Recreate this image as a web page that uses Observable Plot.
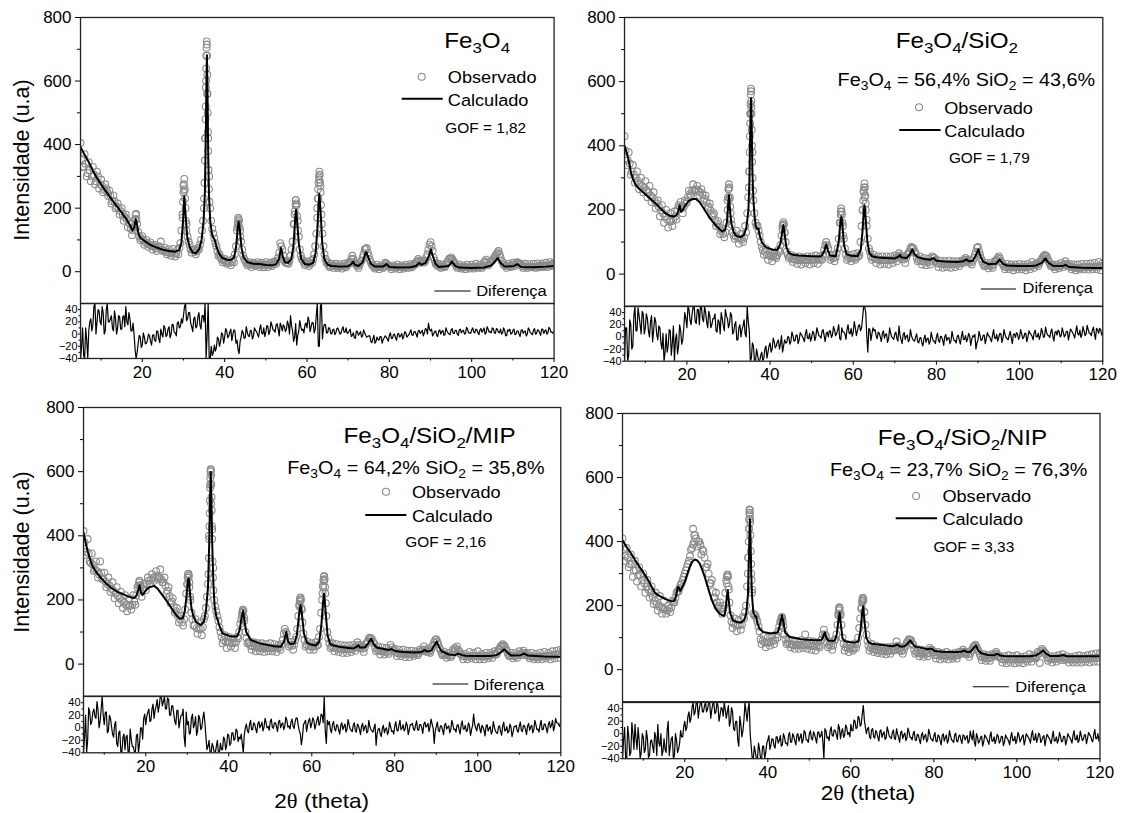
<!DOCTYPE html>
<html><head><meta charset="utf-8">
<script src="https://cdn.jsdelivr.net/npm/d3@7"></script>
<script src="https://cdn.jsdelivr.net/npm/@observablehq/plot@0.6"></script>
<style>
html,body{margin:0;padding:0;background:#fff;}
#root{position:relative;width:1123px;height:813px;overflow:hidden;font-family:"Liberation Sans",Arial,sans-serif;}
#root svg{position:absolute;overflow:visible;max-width:none;}
</style></head><body><div id="root"></div>
<script>
// ---------- sampling: "A" values at 5, 5.5, 6 ...; "B" values at 5.25, 5.75, ... ----------
const X_START = 5, X_STEP = 0.5;
const X_DOMAIN = [5, 120];
const xTicks = [20, 40, 60, 80, 100, 120];
const xMinor = [10, 30, 50, 70, 90, 110];
const yTicks = [0, 200, 400, 600, 800];
const yMinor = [100, 300, 500, 700];
const dTicks = [-40, -20, 0, 20, 40];
const dMinor = [-30, -10, 10, 30];

// ---------- texts ----------
const titles = ["Fe_3O_4", "Fe_3O_4/SiO_2", "Fe_3O_4/SiO_2/MIP", "Fe_3O_4/SiO_2/NIP"];
const compositions = [null, "Fe_3O_4 = 56,4% SiO_2 = 43,6%", "Fe_3O_4 = 64,2% SiO_2 = 35,8%", "Fe_3O_4 = 23,7% SiO_2 = 76,3%"];
const gofs = ["GOF = 1,82", "GOF = 1,79", "GOF = 2,16", "GOF = 3,33"];
const legendLabels = ["Observado", "Calculado", "Diferença"];
const yTitle = "Intensidade (u.a)";

// ---------- Panel 1 : Fe3O4 ----------
const obs1 = [
405,330,370,300,345,285,330,275,315,262,
290,250,275,250,255,215,240,200,215,180,
200,160,180,140,150,115,140,182,125,100,
112,85,100,78,92,70,85,65,80,95,
65,75,55,70,50,72,48,68,75,130,
270,200,110,85,60,70,55,75,85,130,
200,600,420,200,135,105,80,50,45,30,
40,25,35,20,40,55,130,160,95,50,
35,20,30,15,28,18,30,15,28,14,
30,15,28,18,32,25,45,90,70,35,
30,25,50,95,190,210,110,50,35,20,
32,18,35,40,80,170,290,180,80,40,
30,15,25,12,25,12,24,10,25,14,
28,30,50,30,22,12,30,45,70,75,
50,30,20,10,22,8,20,12,28,22,
18,8,20,10,22,8,20,10,22,12,
24,14,25,30,40,30,35,30,45,70,
93,65,35,22,25,12,22,15,30,40,
45,35,25,12,22,10,20,8,22,10,
22,10,25,12,22,12,30,38,20,30,
35,45,55,65,45,30,22,12,25,15,
28,18,30,22,25,12,25,12,24,14,
25,12,26,14,25,15,28,15,30,18,
28];
const obs1B = [
355,330,340,310,320,300,305,285,300,275,
270,258,262,238,240,222,222,205,200,190,
180,172,165,155,135,130,165,150,112,105,
100,92,90,85,82,80,75,72,78,70,
68,62,62,58,60,58,58,55,90,180,
255,150,95,70,68,62,65,70,100,160,
420,560,300,160,120,90,65,55,40,35,
32,30,28,30,30,80,150,130,70,40,
28,25,22,24,22,24,22,22,22,22,
22,22,22,24,28,35,60,80,50,28,
28,35,70,150,225,160,70,40,28,25,
25,25,28,55,120,230,270,120,55,28,
20,18,18,18,16,16,17,16,18,20,
25,40,40,25,18,22,35,55,72,60,
38,22,15,15,15,15,15,18,26,18,
14,14,15,14,15,14,15,14,16,16,
18,20,22,32,35,28,30,35,55,85,
80,45,25,18,16,16,16,22,32,42,
40,28,18,16,14,14,14,14,14,14,
14,16,16,16,16,18,32,28,24,32,
40,50,60,55,35,22,18,18,18,20,
22,25,28,24,18,16,16,16,16,16,
16,16,18,18,18,18,20,20,22,22];
const peaks1 = [[18.3,165],[18.4,180],[18.6,165],
[29.8,170],[29.9,220],[30.0,250],[30.1,275],[30.2,292],[30.3,260],[30.4,230],[30.6,160],[30.7,130],
[35.0,230],[35.1,280],[35.2,350],[35.3,420],[35.35,480],[35.4,520],[35.45,580],[35.5,640],[35.55,680],[35.6,705],[35.65,725],[35.7,715],[35.75,680],[35.8,620],[35.85,560],[35.9,500],[35.95,440],[36.0,380],[36.1,320],[36.2,260],[36.3,220],
[43.1,140],[43.2,155],[43.3,170],[43.4,165],[43.6,140],[43.8,110],
[56.9,150],[57.0,180],[57.2,210],[57.3,225],[57.4,215],[57.6,175],[57.8,130],
[62.5,200],[62.6,230],[62.7,260],[62.8,280],[62.9,300],[63.0,315],[63.1,305],[63.2,280],[63.3,250],[63.4,210],[63.6,150]];
const calc1 = [[5,392],[6,368],[7,345],[8,318],[9,295],[10,275],[11,256],[12,238],[13,220],[14,203],[15,186],[16,168],[17,147],[17.6,130],[18.1,140],[18.4,166],[18.7,150],[19.1,118],[19.6,106],[20.5,97],[22,84],[23.5,76],[25,69],[26.5,65],[28,63],[28.9,68],[29.5,90],[29.9,160],[30.2,237],[30.5,180],[30.9,110],[31.5,78],[32.3,60],[33,58],[33.8,70],[34.4,100],[34.9,160],[35.2,250],[35.45,450],[35.6,620],[35.7,681],[35.85,560],[36.0,380],[36.2,240],[36.5,160],[36.9,120],[37.2,108],[37.6,100],[38.1,75],[38.7,55],[39.5,43],[40.5,38],[41.5,37],[42.3,45],[42.8,80],[43.2,140],[43.4,158],[43.7,130],[44.1,75],[44.6,45],[45.5,30],[47,25],[48.5,24],[50,21],[51.5,20],[52.5,24],[53.2,40],[53.7,75],[54.1,50],[54.6,30],[55.4,28],[56.2,40],[56.7,80],[57.1,160],[57.35,195],[57.6,160],[58,90],[58.6,40],[59.5,24],[60.5,22],[61.5,28],[62.1,60],[62.5,130],[62.8,210],[63.0,245],[63.3,190],[63.7,90],[64.2,40],[65,22],[66,18],[68,16],[70,17],[70.8,25],[71.2,32],[71.6,22],[72.5,18],[73.5,30],[74.1,55],[74.4,62],[74.8,48],[75.5,25],[76.5,16],[78.5,16],[79.3,24],[80,15],[82,13],[85,14],[86.5,18],[87.2,28],[87.8,22],[88.8,28],[89.6,50],[90.1,70],[90.5,52],[91.2,25],[92,15],[94.4,18],[95.2,32],[96,18],[97,13],[100,12],[103,13],[104.8,20],[105.6,32],[106.3,43],[107,28],[108,16],[110.3,18],[111.1,24],[112,15],[115,14],[118,16],[120,18]];
const diff1 = [
-40,10,-40,-10,5,25,15,50,20,38,
15,35,5,50,20,30,5,25,10,28,
8,30,45,15,25,5,0,-40,-15,-5,
-18,-5,-15,0,-12,-2,-10,5,-8,8,
-5,10,-2,12,0,15,2,18,10,25,
30,50,25,35,12,25,10,28,15,30,
20,-40,50,-40,-35,-18,-22,-8,-12,0,
-5,5,-3,8,0,5,-10,-32,-5,2,
-6,3,-4,5,-3,6,-1,8,2,10,
3,12,5,14,6,15,8,18,5,12,
8,15,30,5,-5,-18,5,12,8,15,
10,22,12,18,8,50,-20,50,10,15,
2,10,0,8,2,10,0,8,3,10,
2,8,-2,-6,5,-2,4,-3,2,-5,
-3,-12,-8,-15,-5,-10,-4,-9,-3,-8,
-2,-7,-1,-6,0,-5,1,-4,2,-3,
3,-2,4,0,5,1,6,2,8,18,
5,-3,4,-2,5,0,6,-1,5,0,
7,1,6,0,7,2,6,1,8,2,
7,3,8,2,7,3,10,2,8,4,
10,2,9,3,8,2,6,-2,5,0,
6,-1,5,0,6,1,5,0,7,1,
6,0,7,2,8,1,7,2,9,3,
6];
const diff1B = [
-20,-35,10,-40,20,5,45,0,40,20,
45,0,40,20,25,10,38,0,30,8,
28,12,20,35,5,18,-25,-30,-2,-22,
2,-16,-10,-3,-18,-1,-12,5,-14,0,
14,-4,8,-6,16,3,-3,20,12,18,
45,22,35,18,4,28,12,35,8,30,
50,0,-40,-20,-30,-28,-5,-20,2,-15,
9,-6,3,-11,7,-15,-25,-12,6,-7,
12,-3,6,-8,10,4,-5,15,0,-4,
14,-1,20,7,3,17,-3,13,15,4,
21,0,13,-12,17,-2,22,6,2,18,
28,4,19,2,30,-20,45,-8,16,2,
10,1,7,-1,9,5,1,12,3,1,
5,-4,2,-7,4,1,-5,7,-2,-4,
-3,-14,-2,-12,-9,-4,-15,-6,-5,-12,
2,-7,0,-10,1,-3,-8,4,-5,-1,
7,-2,4,-5,6,3,-3,9,0,8,
8,0,5,-4,7,4,-2,10,2,-1,
9,1,6,-2,8,5,0,11,2,1,
10,2,7,-1,9,6,0,12,3,2,
9,1,8,2,0,10,-3,7,8,1,
8,0,5,-4,7,4,-3,10,2,-1,
9,1,6,-2,8,5,0,11,3,1];

// ---------- Panel 2 : Fe3O4/SiO2 ----------
const obs2 = [
430,340,380,310,340,285,320,265,300,255,
290,240,275,225,255,205,230,180,215,160,
200,145,190,150,195,170,215,225,190,230,
225,260,245,280,260,275,245,265,230,245,
205,220,180,190,150,165,125,140,115,160,
265,190,130,110,135,95,125,100,150,190,
320,520,230,160,150,120,85,60,80,45,
70,40,65,50,75,90,150,130,70,50,
60,38,55,32,55,30,52,35,55,30,
55,35,58,32,55,45,75,100,80,45,
60,40,65,110,195,150,80,45,60,40,
62,45,65,60,150,260,200,110,70,45,
60,35,55,30,55,32,55,30,55,35,
58,40,65,50,55,35,60,70,85,80,
65,40,55,30,50,28,48,30,55,50,
45,22,42,20,40,22,42,20,40,22,
40,25,42,35,50,40,45,30,50,70,
85,60,40,25,35,18,35,20,40,45,
55,40,30,15,32,15,30,12,30,15,
32,15,30,12,32,15,38,20,35,25,
40,50,60,55,40,25,30,15,30,18,
35,22,40,25,32,15,30,12,30,14,
32,15,32,14,33,15,35,15,38,12,
35];
const obs2B = [
385,355,345,320,310,300,290,280,275,270,
262,255,245,240,230,220,210,198,190,180,
170,165,165,170,180,200,210,205,210,220,
240,250,260,262,265,258,255,248,235,225,
210,198,185,170,158,148,135,125,130,230,
235,155,120,118,112,110,108,115,130,240,
500,380,190,150,135,100,75,70,60,60,
55,55,55,60,70,120,155,100,60,55,
48,46,45,44,44,44,44,44,44,44,
45,45,46,45,48,60,90,90,60,52,
50,52,80,160,185,110,60,52,50,50,
52,52,55,100,200,240,150,80,55,52,
48,46,44,44,44,44,44,44,45,46,
50,55,58,46,46,52,65,80,82,70,
52,45,42,40,40,38,38,42,52,40,
34,32,32,32,31,32,31,32,31,32,
32,34,38,45,44,36,36,42,60,82,
70,48,32,28,27,26,26,30,42,50,
48,35,24,22,22,22,22,22,22,22,
22,22,22,22,24,26,28,28,30,35,
45,55,58,48,32,24,22,22,24,25,
28,30,32,26,22,22,20,20,20,20,
22,22,22,22,22,23,24,24,24,25];
const peaks2 = [[29.8,200],[29.9,240],[30.0,265],[30.1,280],[30.2,270],[30.3,240],[30.4,210],[30.6,170],
[34.9,270],[35.0,320],[35.1,380],[35.15,430],[35.2,470],[35.25,500],[35.3,530],[35.35,560],[35.4,578],[35.45,570],[35.5,540],[35.55,500],[35.6,450],[35.65,400],[35.7,350],[35.8,300],[35.9,260],
[43.0,140],[43.1,155],[43.2,162],[43.3,155],[43.5,130],
[56.9,160],[57.0,185],[57.1,205],[57.2,195],[57.4,160],[57.6,120],
[62.3,200],[62.4,230],[62.5,255],[62.6,270],[62.7,283],[62.8,270],[62.9,245],[63.0,220],[63.2,170]];
const calc2 = [[5,400],[5.5,380],[6,355],[6.5,320],[7,298],[7.6,280],[8.5,266],[10,249],[11.2,235],[12.5,220],[13.7,204],[14.9,189],[16,182],[16.9,179],[17.6,185],[18.0,200],[18.25,215],[18.6,194],[19.0,200],[19.5,212],[20.5,229],[21.5,234],[22.2,234],[23,225],[23.8,210],[24.5,195],[25.3,179],[26.1,165],[26.9,153],[27.7,142],[28.5,133],[29.2,138],[29.6,160],[29.9,210],[30.1,246],[30.35,200],[30.7,158],[31.2,132],[31.8,120],[32.9,115],[33.7,122],[34.3,145],[34.8,200],[35.05,300],[35.2,420],[35.35,530],[35.45,548],[35.6,450],[35.75,320],[36.0,230],[36.3,175],[36.6,148],[37.0,140],[37.2,142],[37.5,120],[38.0,100],[38.9,85],[40.5,76],[41.8,76],[42.5,95],[42.9,130],[43.2,153],[43.5,125],[43.9,85],[44.5,66],[45.5,60],[47,58],[50,56],[52.2,55],[53,70],[53.5,93],[53.9,75],[54.4,58],[55.8,56],[56.5,100],[56.9,160],[57.15,180],[57.4,150],[57.8,90],[58.4,62],[59.5,57],[61,56],[61.8,75],[62.2,130],[62.5,190],[62.7,215],[63,170],[63.4,100],[63.9,65],[64.6,55],[66,52],[68,50],[70,49],[70.8,54],[71.2,60],[71.6,52],[72.8,50],[73.6,62],[74.2,77],[74.7,62],[75.5,53],[77,47],[78.5,45],[79.3,50],[80,42],[82,39],[85,38],[86.5,40],[87.2,46],[87.8,40],[88.8,42],[89.6,62],[90.1,77],[90.6,55],[91.3,38],[92.5,31],[94.3,32],[95.2,45],[96,32],[97,27],[100,25],[103,25],[104,27],[105.3,35],[106.2,49],[106.9,36],[108,26],[110.3,25],[111,29],[112,22],[115,20],[118,19],[120,19]];
const diff2 = [
-40,15,-30,20,-15,50,10,35,5,38,
15,30,0,35,10,25,-5,15,-20,-40,
5,-15,10,-10,-40,5,-15,10,-5,40,
15,45,20,50,25,45,20,50,25,40,
15,35,20,30,10,28,5,30,10,35,
15,40,5,20,-5,15,0,18,5,50,
10,-35,-15,-40,-30,-40,-25,-35,-15,-25,
-10,-20,-8,-15,-5,-12,-25,-5,-10,0,
-8,2,-6,3,-5,4,-3,5,-2,6,
-1,7,0,8,1,9,2,6,0,10,
3,12,5,20,-5,8,5,12,6,14,
8,15,10,20,15,50,40,-25,12,5,
10,2,8,0,6,-2,5,-3,6,-2,
5,-3,18,-5,4,-4,3,-5,2,-6,
0,-8,-2,-10,-3,-9,-2,-8,-1,-7,
0,-6,1,-5,0,-6,-1,-7,0,-6,
1,-5,0,-4,2,-3,1,-4,0,-20,
-5,2,-4,3,-3,2,-4,3,-2,4,
-1,5,-2,4,-3,3,-2,4,-1,5,
0,5,-1,6,0,6,1,7,0,6,
2,8,1,7,2,8,1,7,3,9,
2,8,3,9,4,10,3,9,5,11,
4,10,5,12,6,11,5,14,6,12,
8];
const diff2B = [
15,-40,28,-20,35,10,48,20,42,5,
38,10,25,-8,32,4,18,-10,6,-25,
-25,12,-30,18,-5,-28,20,-12,15,30,
50,28,38,50,22,45,50,30,50,25,
42,15,30,38,8,25,40,18,45,30,
22,35,8,25,-5,20,12,28,0,25,
-40,-10,-40,-20,-40,-30,-40,-20,-35,-15,
-25,-2,-18,-8,-20,2,-15,-10,0,-12,
8,-7,3,-11,7,1,-8,12,-3,-7,
9,-6,15,2,-2,12,-8,8,10,-1,
17,2,11,-3,15,8,-4,20,5,1,
25,2,18,10,32,50,2,14,-6,15,
12,-3,6,-8,10,4,-9,15,0,-4,
8,-7,3,-11,7,1,-8,12,-3,-7,
5,-10,-1,-15,3,-3,-12,8,-7,-11,
6,-9,0,-14,4,-2,-11,9,-6,-10,
3,-12,9,-4,-8,6,-14,2,4,-10,
9,-6,3,-11,7,1,-8,12,-3,-7,
6,-9,12,-1,-5,9,-11,5,7,-4,
12,-3,6,-8,10,4,-5,11,0,-4,
14,-1,16,3,-1,13,-7,9,11,0,
15,0,9,-5,13,7,-2,18,3,-1,
17,2,19,6,2,16,-4,12,14,3];

// ---------- Panel 3 : Fe3O4/SiO2/MIP ----------
const obs3 = [
415,340,390,320,345,290,320,270,320,265,
285,240,270,225,255,205,240,190,225,175,
215,165,205,170,215,185,240,260,210,250,
230,270,250,280,260,290,265,295,255,270,
220,240,190,205,160,175,130,150,120,170,
250,240,160,120,140,95,130,90,140,175,
250,560,420,200,165,135,100,65,90,50,
85,55,80,50,85,100,140,165,100,65,
70,45,68,40,65,40,65,38,62,40,
65,40,62,38,60,45,75,110,95,55,
70,45,75,110,185,175,95,55,70,45,
65,45,68,60,110,200,260,150,80,50,
65,40,62,38,60,35,58,35,58,38,
60,42,68,50,58,38,62,70,82,78,
65,40,55,30,52,30,50,32,60,45,
48,25,45,25,45,22,42,22,42,25,
40,28,45,40,55,40,48,35,55,68,
78,62,45,28,38,20,35,22,45,50,
55,40,32,15,32,15,38,18,35,15,
40,15,32,15,35,18,35,20,40,30,
45,55,62,55,42,25,35,18,35,20,
40,28,42,30,35,18,35,15,32,15,
35,15,38,18,35,15,40,18,42,20,
45];
const obs3B = [
380,350,345,315,310,295,290,280,285,265,
258,250,245,235,228,220,212,205,198,192,
185,180,182,185,195,215,245,240,235,240,
250,260,262,268,272,275,270,265,255,245,
228,212,195,180,165,150,140,130,140,220,
270,200,140,120,112,110,110,115,150,210,
400,500,300,180,150,115,85,75,70,68,
68,66,66,68,80,125,160,135,82,68,
58,55,54,52,52,50,50,50,50,50,
50,50,50,50,52,62,95,100,70,60,
58,60,85,150,200,130,75,60,56,55,
55,55,58,85,160,240,220,100,65,55,
52,50,48,48,47,46,46,46,46,48,
50,56,60,50,48,52,66,80,80,70,
52,45,42,40,40,38,38,42,52,42,
36,34,34,33,32,32,31,31,31,32,
32,34,40,46,44,38,38,44,60,75,
70,50,35,30,28,27,26,28,40,45,
44,32,25,24,24,24,25,25,25,25,
25,24,24,25,25,26,28,30,32,38,
48,58,58,48,32,26,25,25,26,28,
32,35,35,28,25,24,23,23,23,23,
24,24,25,25,26,27,28,30,30,32];
const peaks3 = [[18.4,255],[18.6,245],
[30.0,250],[30.1,270],[30.2,280],[30.3,282],[30.4,275],[30.5,255],[30.7,210],
[35.1,280],[35.2,330],[35.3,390],[35.35,430],[35.4,470],[35.45,510],[35.5,550],[35.55,580],[35.6,600],[35.65,608],[35.7,605],[35.75,590],[35.8,560],[35.85,520],[35.9,480],[35.95,430],[36.0,390],[36.1,320],[36.2,270],[36.3,230],
[43.2,150],[43.3,162],[43.4,170],[43.5,168],[43.7,145],
[57.0,180],[57.1,195],[57.2,205],[57.3,208],[57.4,200],[57.6,170],
[62.6,220],[62.7,245],[62.8,262],[62.9,272],[63.0,275],[63.1,265],[63.2,240],[63.4,190]];
const calc3 = [[5,410],[5.5,380],[6,352],[6.5,330],[7,310],[7.5,298],[8.3,283],[9.1,270],[10,258],[10.7,248],[12,235],[13.2,225],[14.5,218],[15.6,212],[16.5,208],[17.2,206],[17.8,215],[18.2,232],[18.5,246],[18.8,225],[19.2,215],[19.6,222],[20.2,233],[21,240],[22,244],[22.8,236],[23.6,222],[24.4,208],[25.2,194],[26,178],[26.8,163],[27.5,150],[28.2,142],[28.9,143],[29.4,165],[29.8,210],[30.15,260],[30.35,267],[30.6,230],[31.0,175],[31.5,148],[32.1,132],[33.2,122],[34,132],[34.5,165],[35,240],[35.3,380],[35.5,520],[35.65,599],[35.8,520],[36,380],[36.3,250],[36.6,180],[37,148],[37.3,140],[37.6,125],[38.5,96],[40.5,86],[42,86],[42.6,105],[43.1,145],[43.45,166],[43.8,135],[44.2,100],[45.3,75],[47.7,64],[50.9,56],[52.5,54],[53.3,70],[53.85,100],[54.3,70],[54.8,63],[55.8,64],[56.4,90],[56.9,150],[57.3,184],[57.6,160],[58.1,96],[58.8,68],[59.5,62],[61,58],[61.8,70],[62.3,120],[62.7,190],[62.95,220],[63.3,170],[63.8,90],[64.4,64],[65,59],[67,53],[70,49],[70.8,54],[71.2,59],[71.6,52],[72.8,52],[73.6,65],[74.3,80],[74.8,65],[75.6,52],[77,48],[78.5,44],[79.3,47],[80,41],[82,38],[85,36],[86.5,38],[87.2,44],[87.8,39],[88.8,42],[89.6,60],[90.1,70],[90.6,55],[91.3,40],[93,30],[94.5,28],[95.3,33],[96.2,28],[97,26],[100,25],[103,25],[104.5,28],[105.5,36],[106.4,46],[107,38],[108,27],[110.3,28],[111.2,33],[112,27],[116,24],[120,23]];
const diff3 = [
-40,20,-20,25,10,30,15,28,10,50,
5,25,-5,15,-10,5,-25,-8,-40,-15,
-35,-12,-40,-18,-30,-40,-10,-25,0,15,
5,25,10,30,15,35,25,50,35,50,
30,45,20,35,10,28,0,20,30,-30,
5,-10,15,0,18,-5,15,0,25,-15,
-30,-40,-25,-40,-30,-40,-25,-35,-18,-28,
-12,-25,-8,-18,-5,-15,-10,-40,0,-5,
5,-3,8,-2,6,0,9,1,8,2,
10,1,8,2,10,0,8,2,12,3,
9,2,10,15,-5,-27,5,12,4,15,
6,12,5,18,8,20,50,-25,5,-3,
6,-2,5,-4,4,-3,6,-2,5,-4,
4,-5,6,-3,3,-5,4,-6,2,-5,
0,-28,-2,-10,-1,-8,0,-6,2,-5,
3,-4,4,-3,5,-2,4,-3,5,-2,
4,-3,5,0,6,1,7,2,6,-25,
2,-4,3,-3,4,-2,3,-3,5,-2,
4,-3,5,-2,4,-4,3,-3,22,0,
5,-2,4,-4,3,-5,2,-6,1,-8,
2,-6,3,-5,2,-6,1,-7,2,-5,
3,-4,4,-3,3,-4,4,-3,5,-2,
4,-3,6,-1,5,0,12,2,8,5,
12];
const diff3B = [
-15,-40,32,5,25,18,42,0,30,20,
25,-8,20,2,-15,10,-30,-5,-40,-10,
-15,-40,-2,-30,-38,-12,-40,0,-18,22,
18,30,12,38,28,45,35,50,42,30,
48,20,35,22,5,28,10,20,-15,25,
10,-8,22,5,-12,20,-3,15,8,-35,
-20,-40,-30,-40,-20,-40,-35,-15,-35,-10,
-28,-8,-20,-2,-22,-18,-25,-10,6,-8,
12,-3,6,-8,10,4,-5,15,0,-4,
14,-1,8,-6,12,6,-3,17,1,-2,
14,-1,16,3,-10,-15,8,-6,12,0,
16,-2,12,4,22,8,-5,12,10,-8,
10,-5,4,-10,8,2,-7,13,-2,-6,
8,-7,3,-11,7,1,-8,12,-3,-7,
6,-9,-1,-14,4,-2,-11,9,-6,-10,
10,-5,12,-1,-5,9,-11,5,7,-4,
11,-4,5,-9,9,3,-6,14,-1,-5,
9,-6,3,-11,7,1,-8,12,-3,-7,
5,-10,11,-2,-6,8,-12,4,6,-5,
7,-8,1,-13,5,-1,-10,10,-5,-9,
3,-12,9,-4,-8,6,-14,2,4,-7,
9,-6,3,-11,7,1,-8,12,-3,-7,
12,-3,6,-8,10,4,-5,15,8,2];

// ---------- Panel 4 : Fe3O4/SiO2/NIP ----------
const obs4 = [
410,340,380,320,360,290,340,275,320,260,
300,240,280,225,260,205,240,185,230,175,
215,175,200,180,215,210,240,245,265,280,
300,320,340,375,390,420,385,400,360,370,
320,330,270,280,225,240,195,210,175,200,
280,260,170,130,160,120,155,125,165,180,
260,440,300,175,170,150,120,80,105,70,
100,75,105,80,110,120,150,160,110,80,
95,70,92,65,90,65,92,68,110,65,
90,62,88,60,85,70,95,125,105,70,
88,62,90,110,170,175,100,60,80,55,
78,60,82,80,130,190,220,140,90,60,
80,55,75,52,72,50,70,48,70,50,
72,60,88,65,70,50,72,85,95,92,
78,50,65,42,62,40,60,42,68,62,
55,35,55,32,52,35,55,32,50,35,
52,35,55,50,62,50,55,40,60,72,
78,65,50,30,48,28,45,28,48,42,
55,40,42,22,42,20,45,22,42,20,
45,22,40,20,42,25,48,25,45,35,
55,21,65,55,48,28,42,22,42,25,
45,30,48,30,42,22,40,22,42,22,
45,22,42,25,45,22,48,25,50,25,
52];
const obs4B = [
375,355,350,330,330,310,310,295,295,280,
270,258,250,240,228,215,205,198,195,190,
188,185,190,195,210,225,245,255,270,290,
310,330,355,380,400,410,400,390,375,350,
320,300,270,245,225,210,200,190,190,240,
295,210,150,145,140,138,140,140,160,200,
350,470,250,170,160,135,95,90,85,85,
85,88,90,92,100,135,160,135,95,85,
80,78,78,76,78,76,78,76,80,78,
75,74,74,72,75,90,110,110,85,76,
75,75,95,140,190,140,80,70,68,66,
66,66,68,100,160,215,180,110,75,68,
65,63,62,60,60,59,58,58,58,60,
62,72,75,60,58,62,75,90,92,82,
62,55,52,50,50,50,50,52,62,55,
46,45,45,44,44,44,43,43,43,43,
44,45,50,56,55,48,48,50,62,75,
72,58,42,38,38,36,36,38,44,48,
48,40,34,32,32,32,32,32,32,32,
32,32,32,32,33,34,35,36,38,42,
50,58,60,52,38,34,33,33,34,35,
37,38,38,34,32,32,32,32,32,32,
33,33,34,34,35,35,36,36,37,38];
const peaks4 = [[22.0,440],[22.3,420],
[30.1,270],[30.2,290],[30.3,297],[30.4,290],[30.6,250],
[35.2,300],[35.3,350],[35.4,400],[35.45,440],[35.5,470],[35.55,490],[35.6,500],[35.65,498],[35.7,485],[35.75,460],[35.8,420],[35.9,370],[36.0,330],[36.1,280],[36.2,240],
[43.2,150],[43.3,160],[43.4,165],[43.6,150],
[57.0,175],[57.1,185],[57.2,195],[57.3,192],[57.5,170],
[62.6,195],[62.7,210],[62.8,222],[62.9,225],[63.0,215],[63.2,180]];
const calc4 = [[5,404],[6,383],[7.1,362],[8,343],[9.1,321],[10.2,300],[11.2,279],[12,260],[12.8,241],[13.6,232],[14.4,227],[15.2,221],[16,217],[16.8,214],[17.4,214],[17.9,228],[18.3,258],[18.5,258],[18.9,246],[19.4,258],[20,274],[20.6,298],[21.2,321],[21.8,337],[22.4,344],[23,341],[23.6,331],[24.2,312],[24.8,290],[25.4,264],[26,238],[26.6,215],[27.2,196],[27.8,184],[28.4,175],[29,170],[29.5,168],[29.8,185],[30.1,225],[30.35,248],[30.6,215],[30.9,178],[31.6,154],[32.5,149],[33.6,147],[34.3,155],[34.8,175],[35.2,232],[35.45,350],[35.6,440],[35.7,470],[35.85,400],[36.0,300],[36.2,230],[36.5,180],[37.0,165],[37.2,166],[37.5,145],[38,128],[38.8,118],[40.8,113],[42.4,116],[42.9,139],[43.4,170],[43.8,145],[44.2,115],[45.3,102],[48.1,95],[51.3,92],[52.9,92],[53.3,102],[53.7,116],[54.1,100],[54.6,90],[56.1,90],[56.6,110],[57.0,155],[57.3,178],[57.6,140],[58,97],[58.7,88],[60.9,84],[61.8,88],[62.3,120],[62.7,175],[62.95,198],[63.3,150],[63.7,100],[64.3,85],[65,81],[67.5,77],[70,73],[70.8,76],[71.3,79],[71.8,72],[72.8,72],[73.6,80],[74.3,92],[74.8,82],[75.5,72],[77,68],[78.5,64],[79.4,66],[80.2,58],[82,56],[85,55],[86.5,56],[87.3,60],[88,55],[88.8,56],[89.6,68],[90.1,76],[90.6,62],[91.3,52],[93,46],[94.5,45],[95.2,50],[96,44],[97,43],[100,42],[103,42],[104.5,44],[105.5,52],[106.3,60],[107,50],[108,43],[110.3,43],[111.1,46],[112,42],[116,42],[120,42]];
const diff4 = [
-40,10,-40,-5,-30,0,15,-25,-10,-30,
-5,-25,-8,-35,-10,-30,-5,15,-20,-35,
-8,-30,20,-20,-5,-35,-10,-25,5,-5,
20,10,35,25,50,35,50,40,50,35,
50,40,50,38,50,35,45,30,40,50,
25,45,20,35,5,20,-20,15,5,50,
20,50,-20,-40,-30,-40,-25,-40,-20,-30,
-10,-25,-8,-20,-5,-15,-3,-18,-5,-15,
-2,-14,0,-12,-2,-12,0,-10,2,-10,
0,-8,3,-8,2,-6,4,-40,5,-5,
5,-3,6,-2,15,-8,8,-2,10,2,
15,5,20,10,25,15,45,10,8,-5,
6,-5,5,-6,4,-6,3,-7,4,-6,
2,-8,8,-6,2,-8,1,-7,3,-6,
0,-10,-1,-10,-2,-10,-1,-10,0,-9,
-3,-12,-2,-11,-3,-12,-2,-10,-3,-11,
-2,-12,-4,-10,-2,-10,-3,-12,-4,5,
-20,-5,-12,-4,-13,-5,-12,-4,-12,-5,
-10,-4,-12,-5,-13,-6,-12,-5,-11,-4,
-10,-3,-9,-2,-10,-3,-9,-2,-10,0,
-8,-2,-10,-3,-9,-4,-11,-5,-12,-5,
-10,-4,-12,-5,-11,-4,-10,-3,-9,-2,
-10,-3,-9,-2,-8,-1,-10,-2,-8,0,
-5];
const diff4B = [
-10,-40,12,-35,18,-25,-8,10,-40,0,
-30,5,-38,-12,-20,2,-35,-15,0,-28,
-25,5,-35,-8,-40,0,-30,-15,-5,12,
5,28,18,42,30,50,25,50,35,45,
35,50,25,48,32,50,20,42,28,38,
35,12,42,8,20,-10,28,-5,22,35,
40,0,-40,-20,-40,-15,-40,-20,-40,-15,
-3,-18,-9,-23,-5,-11,-20,0,-15,-19,
2,-13,-4,-18,0,-6,-15,5,-10,-14,
5,-10,-1,-15,3,-3,-12,8,-7,-11,
11,-4,5,-9,9,3,-6,14,-1,-5,
5,22,8,28,12,32,22,0,10,-8,
8,-7,2,-12,6,0,-9,11,-4,-8,
6,-9,0,-14,4,-2,-11,9,-6,-10,
4,-11,-2,-16,2,-4,-13,7,-8,-12,
2,-13,-4,-18,0,-6,-15,5,-10,-14,
1,-13,-2,-16,-3,-6,-15,4,-10,-14,
0,-15,-6,-20,-2,-8,-17,3,-12,-16,
-1,-15,-4,-19,-2,-8,-18,2,-11,-16,
2,-13,-4,-18,0,-6,-15,5,-10,-14,
1,-14,-5,-19,-1,-7,-16,4,-11,-15,
2,-13,-4,-18,0,-6,-15,5,-10,-14,
4,-11,-2,-16,2,-4,-13,7,-8,-12];

// ---------- layout (pixel positions of frames and legend items) ----------
const panels = [
  {obs: obs1, obsB: obs1B, peaks: peaks1, calc: calc1, diff: diff1, diffB: diff1B, fx0: 80, fx1: 553.6, top: 17.3, mainB: 303.3, diffBottom: 358.3,
   title: [444.2, 47.5], comp: null, mk: [421.7, 76.7], obsT: [447.8, 83.3], calcL: [401.7, 442.7, 98.7], calcT: [447.8, 106],
   gof: [445.3, 132.7], difL: [434.4, 470.7, 291], difT: [476.2, 296], ylab: [21.8, 160], xlab: null},
  {obs: obs2, obsB: obs2B, peaks: peaks2, calc: calc2, diff: diff2, diffB: diff2B, fx0: 623.5, fx1: 1101.8, top: 17.3, mainB: 306, diffBottom: 360.7,
   title: [895.7, 48], comp: [837.6, 86], mk: [919, 107.3], obsT: [944.2, 114], calcL: [899.3, 940.6, 130], calcT: [944.2, 136.7],
   gof: [948.9, 162.7], difL: [980.8, 1016, 289], difT: [1022.5, 293.3], ylab: null, xlab: null},
  {obs: obs3, obsB: obs3B, peaks: peaks3, calc: calc3, diff: diff3, diffB: diff3B, fx0: 82.5, fx1: 559.8, top: 407.3, mainB: 696, diffBottom: 752.3,
   title: [343.5, 442.7], comp: [287.2, 474], mk: [386, 491.7], obsT: [411.9, 498.3], calcL: [365.3, 406.4, 515], calcT: [411.9, 521.7],
   gof: [405.3, 547.3], difL: [432.6, 468.2, 684], difT: [473.6, 690], ylab: [21.8, 552], xlab: [321.7, 808]},
  {obs: obs4, obsB: obs4B, peaks: peaks4, calc: calc4, diff: diff4, diffB: diff4B, fx0: 621.8, fx1: 1099.3, top: 413.3, mainB: 701.5, diffBottom: 757.7,
   title: [877.8, 445], comp: [830, 476], mk: [916.2, 496], obsT: [942.4, 501.7], calcL: [895.7, 937, 518.3], calcT: [942.4, 525],
   gof: [933.4, 551.7], difL: [972.9, 1008.8, 686.7], difT: [1015.3, 692.3], ylab: null, xlab: [868, 800]}
];

const root = document.getElementById("root");
const FONT = "Liberation Sans, Arial, sans-serif";
const OBS_COLOR = "#8c8c8c";
const gridA = vals => vals.map((v, i) => ({x: X_START + i * X_STEP, y: v}));
const gridB = vals => vals.map((v, i) => ({x: X_START + X_STEP / 2 + i * X_STEP, y: v}));
const pairs = arr => arr.map(([x, y]) => ({x, y}));
const blank = () => "";

function place(el, left, top) {
  el.style.position = "absolute";
  el.style.left = left + "px";
  el.style.top = top + "px";
  root.appendChild(el);
}

panels.forEach((p) => {
  const ML = 60, MR = 14, MT = 12;
  const fw = p.fx1 - p.fx0;
  const mainH = p.mainB - p.top;
  const obsData = gridA(p.obs).concat(gridB(p.obsB), pairs(p.peaks));
  const main = Plot.plot({
    width: fw + ML + MR, height: mainH + MT + 1,
    marginLeft: ML, marginRight: MR, marginTop: MT, marginBottom: 1,
    style: {fontFamily: FONT, fontSize: "17px", background: "transparent", overflow: "visible"},
    x: {domain: X_DOMAIN, axis: null, label: null},
    y: {domain: [-100, 800], label: null},
    marks: [
      Plot.axisY(yTicks, {tickSize: 5, tickPadding: 4, fontSize: 17, label: null}),
      Plot.axisY(yMinor, {tickSize: 3, tickFormat: blank, label: null}),
      Plot.dot(obsData, {x: "x", y: "y", r: 3.4, stroke: OBS_COLOR, strokeWidth: 1.1, fill: "none", clip: true}),
      Plot.line(pairs(p.calc), {x: "x", y: "y", stroke: "#000", strokeWidth: 2, clip: true}),
      Plot.frame({stroke: "#222", strokeWidth: 1.3})
    ]
  });
  place(main, p.fx0 - ML, p.top - MT);

  const diffH = p.diffBottom - p.mainB;
  const diffData = gridA(p.diff).concat(gridB(p.diffB)).sort((a, b) => a.x - b.x);
  const diff = Plot.plot({
    width: fw + ML + MR, height: diffH + 1 + 40,
    marginLeft: ML, marginRight: MR, marginTop: 1, marginBottom: 40,
    style: {fontFamily: FONT, fontSize: "11px", background: "transparent", overflow: "visible"},
    x: {domain: X_DOMAIN, label: null},
    y: {domain: [-40, 50], label: null},
    marks: [
      Plot.axisY(dTicks, {tickSize: 2, tickPadding: 1, fontSize: 11, label: null}),
      Plot.axisY(dMinor, {tickSize: 1.5, tickFormat: blank, label: null}),
      Plot.axisX(xTicks, {tickSize: 4, tickPadding: 3, fontSize: 17, label: null}),
      Plot.axisX(xMinor, {tickSize: 2.5, tickFormat: blank, label: null}),
      Plot.line(diffData, {x: "x", y: "y", stroke: "#000", strokeWidth: 1.2, clip: true}),
      Plot.frame({stroke: "#222", strokeWidth: 1.3})
    ]
  });
  place(diff, p.fx0 - ML, p.mainB - 1);
});

// ---------- overlay text ----------
const ov = d3.select(root).append("svg")
  .attr("width", 1123).attr("height", 813)
  .style("left", "0px").style("top", "0px")
  .attr("font-family", FONT);
const SX = 1.1;
function chem(str, x, y, fs) {
  const t = ov.append("text").attr("transform", `translate(${x},${y}) scale(${SX},1)`)
    .attr("font-size", fs).attr("fill", "#000");
  let sub = false;
  str.split(/(_\d)/).forEach(s => {
    if (!s) return;
    if (s[0] === "_") {
      t.append("tspan").attr("font-size", fs * 0.7).attr("dy", fs * 0.24).text(s.slice(1));
      sub = true;
    } else {
      t.append("tspan").attr("dy", sub ? -fs * 0.24 : 0).text(s);
      sub = false;
    }
  });
  return t;
}
panels.forEach((p, k) => {
  chem(titles[k], p.title[0], p.title[1], 22);
  if (p.comp && compositions[k]) chem(compositions[k], p.comp[0], p.comp[1], 18);
  ov.append("circle").attr("cx", p.mk[0]).attr("cy", p.mk[1]).attr("r", 3.5)
    .attr("fill", "none").attr("stroke", OBS_COLOR).attr("stroke-width", 1.1);
  chem(legendLabels[0], p.obsT[0], p.obsT[1], 16.5);
  ov.append("line").attr("x1", p.calcL[0]).attr("x2", p.calcL[1]).attr("y1", p.calcL[2]).attr("y2", p.calcL[2])
    .attr("stroke", "#000").attr("stroke-width", 2);
  chem(legendLabels[1], p.calcT[0], p.calcT[1], 16.5);
  chem(gofs[k], p.gof[0], p.gof[1], 14);
  ov.append("line").attr("x1", p.difL[0]).attr("x2", p.difL[1]).attr("y1", p.difL[2]).attr("y2", p.difL[2])
    .attr("stroke", "#000").attr("stroke-width", 1.1);
  chem(legendLabels[2], p.difT[0], p.difT[1], 15);
  if (p.ylab) {
    ov.append("text").attr("transform", `translate(${p.ylab[0]},${p.ylab[1]}) rotate(-90)`)
      .attr("text-anchor", "middle").attr("dominant-baseline", "central")
      .attr("font-size", 21.5).text(yTitle);
  }
  if (p.xlab) {
    const t = ov.append("text").attr("transform", `translate(${p.xlab[0]},${p.xlab[1]}) scale(${SX},1)`)
      .attr("text-anchor", "middle").attr("font-size", 20.5);
    t.append("tspan").text("2");
    t.append("tspan").attr("font-family", "Liberation Serif, serif").text("θ");
    t.append("tspan").text(" (theta)");
  }
});
</script></body></html>
